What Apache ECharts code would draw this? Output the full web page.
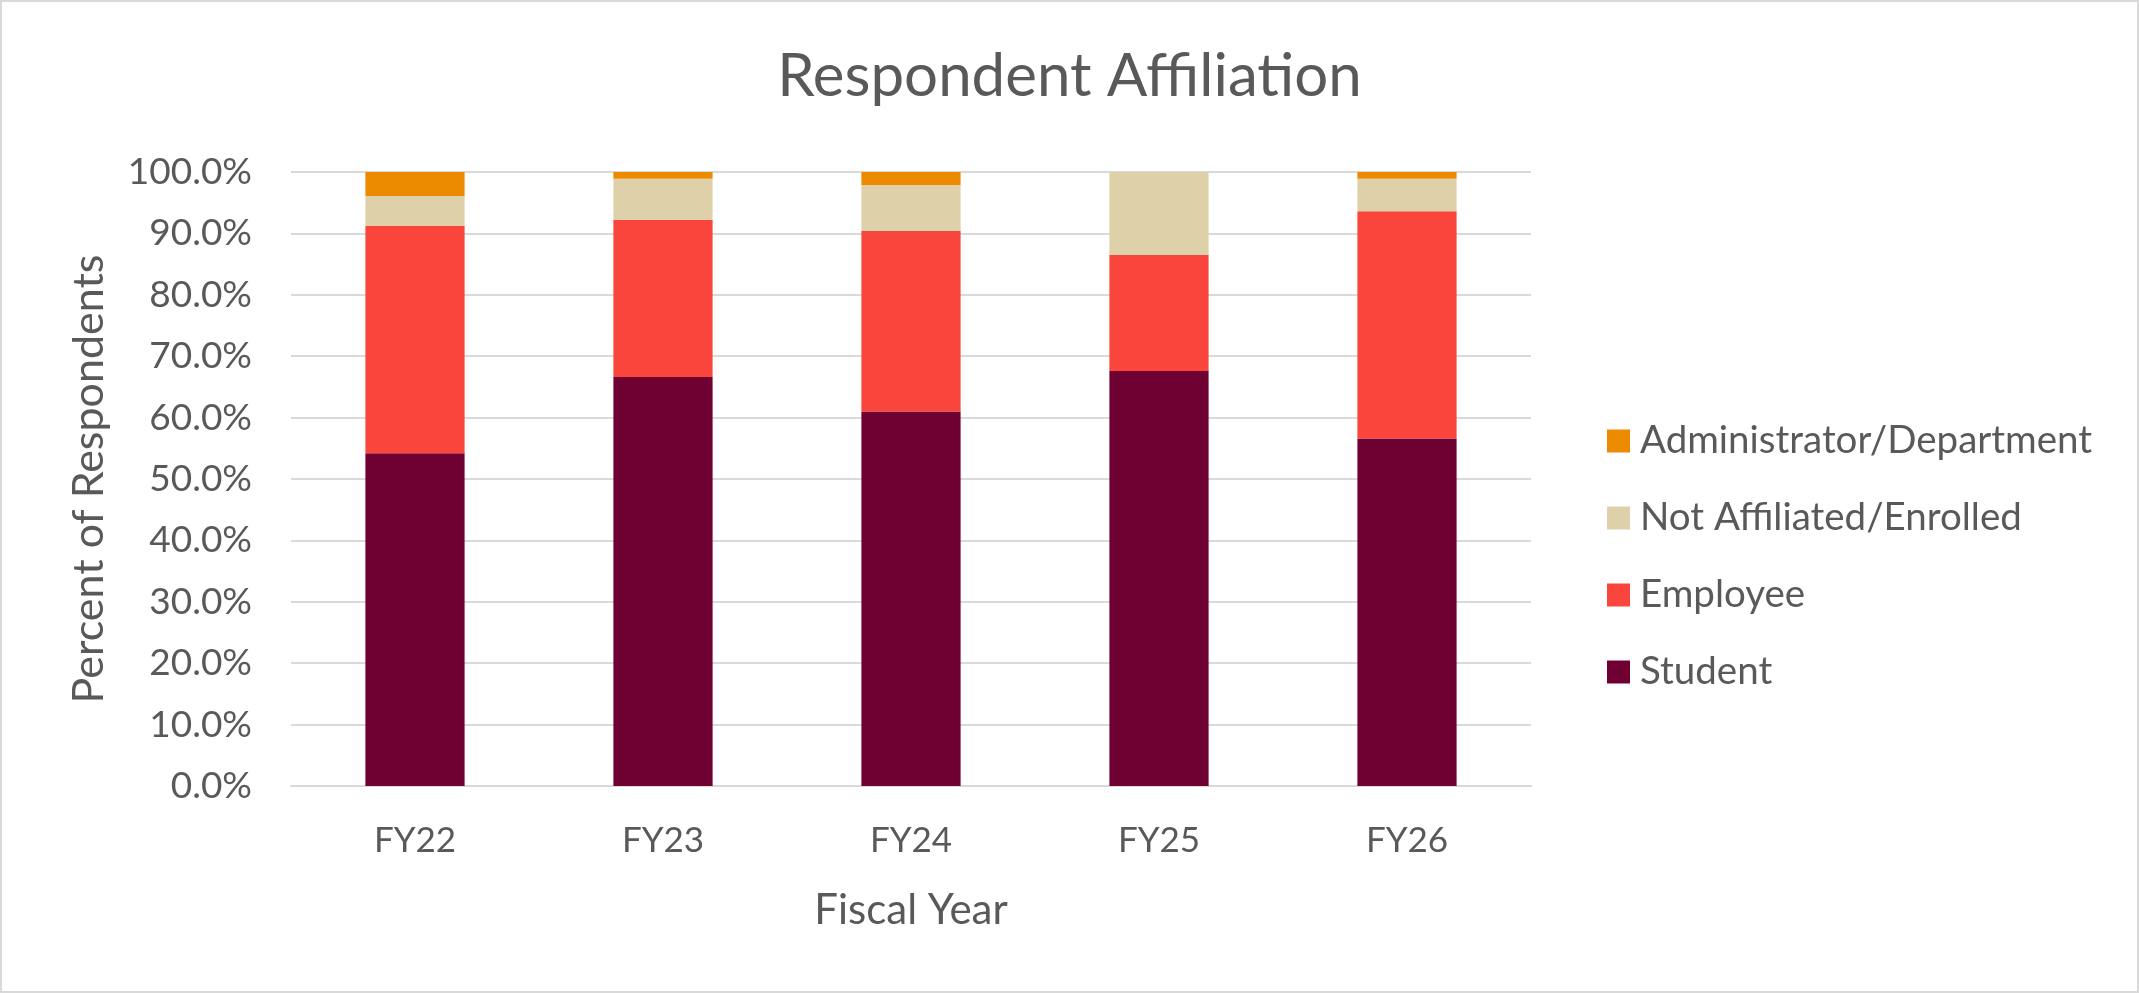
<!DOCTYPE html>
<html>
<head>
<meta charset="utf-8">
<script src="https://cdn.jsdelivr.net/npm/echarts@6/dist/echarts.min.js"></script>
<style>
html,body{margin:0;padding:0;background:#fff;}
#chart{width:2139px;height:993px;box-sizing:border-box;border:2px solid #d9d9d9;}
</style>
</head>
<body>
<div id="chart"></div>
<script>
const categories = ['FY22', 'FY23', 'FY24', 'FY25', 'FY26'];
const student = [54.2, 66.6, 61.0, 67.6, 56.6];
const employee = [37.0, 25.6, 29.4, 18.9, 37.0];
const notAffiliated = [4.9, 6.7, 7.5, 13.5, 5.3];
const administrator = [3.9, 1.1, 2.1, 0, 1.1];
const legendOrder = ['Administrator/Department', 'Not Affiliated/Enrolled', 'Employee', 'Student'];

const FONT = 'Lato, "Open Sans", sans-serif';
const TXT = '#595959';

const chart = echarts.init(document.getElementById('chart'), null, {renderer: 'canvas'});
const mk = (name, data, color) => ({
  name, type: 'bar', stack: 'total', data, barWidth: '40%',
  itemStyle: {color}, emphasis: {disabled: true}
});
chart.setOption({
  animation: false,
  textStyle: {fontFamily: FONT, color: TXT},
  title: {
    text: 'Respondent Affiliation', left: 'center', top: 40,
    textStyle: {fontFamily: FONT, fontSize: 60, fontWeight: 'normal', color: TXT}
  },
  legend: {
    orient: 'vertical', left: 1600, top: 414,
    itemWidth: 23, itemHeight: 23, itemGap: 37,
    icon: 'rect',
    data: legendOrder,
    textStyle: {fontFamily: FONT, fontSize: 38.5, color: TXT, lineHeight: 40, padding: [0, 0, 0, 5]}
  },
  grid: {left: 289, right: 606, top: 170, bottom: 205, containLabel: false},
  xAxis: {
    type: 'category', data: categories,
    name: 'Fiscal Year', nameLocation: 'middle', nameGap: 103,
    nameTextStyle: {fontFamily: FONT, fontSize: 42, color: TXT},
    axisLine: {lineStyle: {color: '#d9d9d9', width: 2}},
    axisTick: {show: false},
    axisLabel: {fontFamily: FONT, fontSize: 35, color: TXT, margin: 37}
  },
  yAxis: {
    type: 'value', min: 0, max: 100, interval: 10,
    name: 'Percent of Respondents', nameLocation: 'middle', nameGap: 180,
    nameTextStyle: {fontFamily: FONT, fontSize: 43, color: TXT},
    axisLine: {show: false}, axisTick: {show: false},
    splitLine: {lineStyle: {color: '#d9d9d9', width: 2}},
    axisLabel: {fontFamily: FONT, fontSize: 37, color: TXT, margin: 39,
      formatter: v => v.toFixed(1) + '%'}
  },
  series: [
    mk('Student', student, '#6F0032'),
    mk('Employee', employee, '#F9453B'),
    mk('Not Affiliated/Enrolled', notAffiliated, '#DED0A9'),
    mk('Administrator/Department', administrator, '#ED8B00')
  ]
});
</script>
</body>
</html>
